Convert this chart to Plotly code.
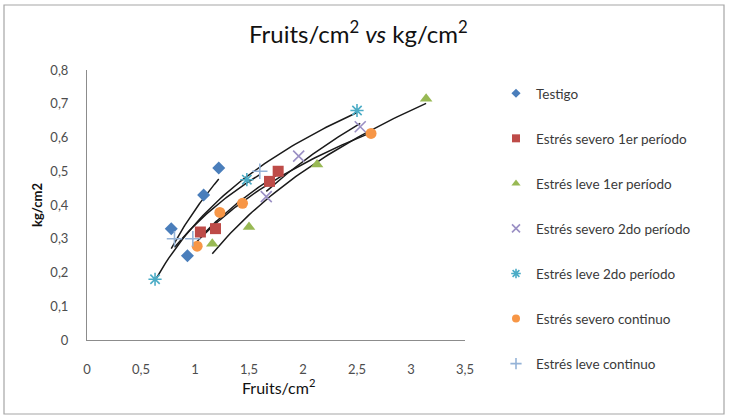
import numpy as np
import plotly.graph_objects as go

# ---- data ----
series_names = [
    "Testigo",
    "Estrés severo 1er período",
    "Estrés leve 1er período",
    "Estrés severo 2do período",
    "Estrés leve 2do período",
    "Estrés severo continuo",
    "Estrés leve continuo",
]
testigo_x = [0.78, 0.93, 1.08, 1.22]
testigo_y = [0.33, 0.25, 0.43, 0.51]
sev1_x = [1.05, 1.19, 1.69, 1.77]
sev1_y = [0.32, 0.33, 0.47, 0.50]
lev1_x = [1.16, 1.50, 2.13, 3.14]
lev1_y = [0.285, 0.335, 0.52, 0.715]
sev2_x = [1.66, 1.96, 2.53]
sev2_y = [0.425, 0.545, 0.632]
lev2_x = [0.63, 1.48, 2.50]
lev2_y = [0.18, 0.475, 0.68]
sevc_x = [1.02, 1.23, 1.44, 2.63]
sevc_y = [0.278, 0.378, 0.405, 0.612]
levc_x = [0.81, 0.98, 1.60]
levc_y = [0.30, 0.30, 0.50]

x_ticks = [0, 0.5, 1, 1.5, 2, 2.5, 3, 3.5]
x_tick_labels = ["0", "0,5", "1", "1,5", "2", "2,5", "3", "3,5"]
y_ticks = [0, 0.1, 0.2, 0.3, 0.4, 0.5, 0.6, 0.7, 0.8]
y_tick_labels = ["0", "0,1", "0,2", "0,3", "0,4", "0,5", "0,6", "0,7", "0,8"]

xs = [testigo_x, sev1_x, lev1_x, sev2_x, lev2_x, sevc_x, levc_x]
ys = [testigo_y, sev1_y, lev1_y, sev2_y, lev2_y, sevc_y, levc_y]

styles = [
    dict(symbol="diamond", color="#4A7EBB", size=10, line=dict(width=0)),
    dict(symbol="square", color="#BE4B48", size=11, line=dict(width=0)),
    dict(symbol="triangle-up", color="#98B954", size=11, line=dict(width=0)),
    dict(symbol="x-thin-open", color="#9A8FC4", size=11, line=dict(width=1.6, color="#9A8FC4")),
    dict(symbol="asterisk-open", color="#4BACC6", size=11, line=dict(width=1.6, color="#4BACC6")),
    dict(symbol="circle", color="#F79646", size=11, line=dict(width=0)),
    dict(symbol="cross-thin-open", color="#95B3D7", size=11, line=dict(width=1.6, color="#95B3D7")),
]

fig = go.Figure()

# logarithmic trendlines (fitted from each series, as in the spreadsheet)
for x, y in zip(xs, ys):
    xa = np.array(x, dtype=float)
    ya = np.array(y, dtype=float)
    a, b = np.polyfit(np.log(xa), ya, 1)
    xf = np.linspace(xa.min(), xa.max(), 60)
    fig.add_trace(go.Scatter(x=xf, y=a * np.log(xf) + b, mode="lines",
                             line=dict(color="#1a1a1a", width=1.5),
                             showlegend=False, hoverinfo="skip"))

for i, (name, x, y, st) in enumerate(zip(series_names, xs, ys, styles)):
    fig.add_trace(go.Scatter(x=x, y=y, mode="markers", name=name,
                             legendgroup=f"g{i}", marker=st, showlegend=False))
    # smaller legend swatch, as in the spreadsheet legend
    lst = dict(st)
    lst["size"] = st["size"] - 3
    fig.add_trace(go.Scatter(x=[None], y=[None], mode="markers", name=name,
                             legendgroup=f"g{i}", marker=lst, showlegend=True))

W, H = 729, 417
L, R, T, B = 87, 729 - 465, 70, 417 - 340
pw, ph = W - L - R, H - T - B

def px(xp):
    return (xp - L) / pw

def py(yp):
    return (H - B - yp) / ph

fig.update_layout(
    width=W, height=H,
    margin=dict(l=L, r=R, t=T, b=B),
    paper_bgcolor="white", plot_bgcolor="white",
    font=dict(family="Lato, 'Open Sans', sans-serif", color="#404040"),
    legend=dict(x=px(496), y=py(78), xanchor="left", yanchor="top",
                font=dict(size=13.5, color="#3a3a3a"),
                tracegroupgap=24.5, itemwidth=30, bgcolor="rgba(0,0,0,0)",
                maxheight=400),
    xaxis=dict(range=[0, 3.5], tickvals=x_ticks, ticktext=x_tick_labels,
               showgrid=False, zeroline=False, showline=True,
               linecolor="#8c8c8c", linewidth=1, ticks="",
               tickfont=dict(size=13, color="#4d4d4d"), ticklabelstandoff=17),
    yaxis=dict(range=[0, 0.8], tickvals=y_ticks, ticktext=y_tick_labels,
               showgrid=False, zeroline=False, showline=True,
               linecolor="#8c8c8c", linewidth=1, ticks="",
               tickfont=dict(size=13, color="#4d4d4d"), ticklabelstandoff=15),
    showlegend=True,
)

fig.add_annotation(text="Fruits/cm<sup>2</sup> <i>vs</i> kg/cm<sup>2</sup>",
                   xref="paper", yref="paper", x=px(358), y=py(32),
                   xanchor="center", yanchor="middle", showarrow=False,
                   font=dict(size=24, color="#111111"))
fig.add_annotation(text="Fruits/cm<sup>2</sup>",
                   xref="paper", yref="paper", x=px(278), y=py(386),
                   xanchor="center", yanchor="middle", showarrow=False,
                   font=dict(size=16, color="#111111"))
fig.add_annotation(text="<b>kg/cm2</b>",
                   xref="paper", yref="paper", x=px(37), y=py(205),
                   xanchor="center", yanchor="middle", showarrow=False,
                   textangle=-90, font=dict(size=13, color="#111111"))

fig.add_shape(type="rect", xref="paper", yref="paper",
              x0=px(4), x1=px(724), y0=py(414), y1=py(5),
              line=dict(color="#a6a6a6", width=1.2), layer="below")

fig.write_html("out.html", config={"displayModeBar": False},
               post_script="document.body.style.margin='0';document.body.style.overflow='hidden';")
